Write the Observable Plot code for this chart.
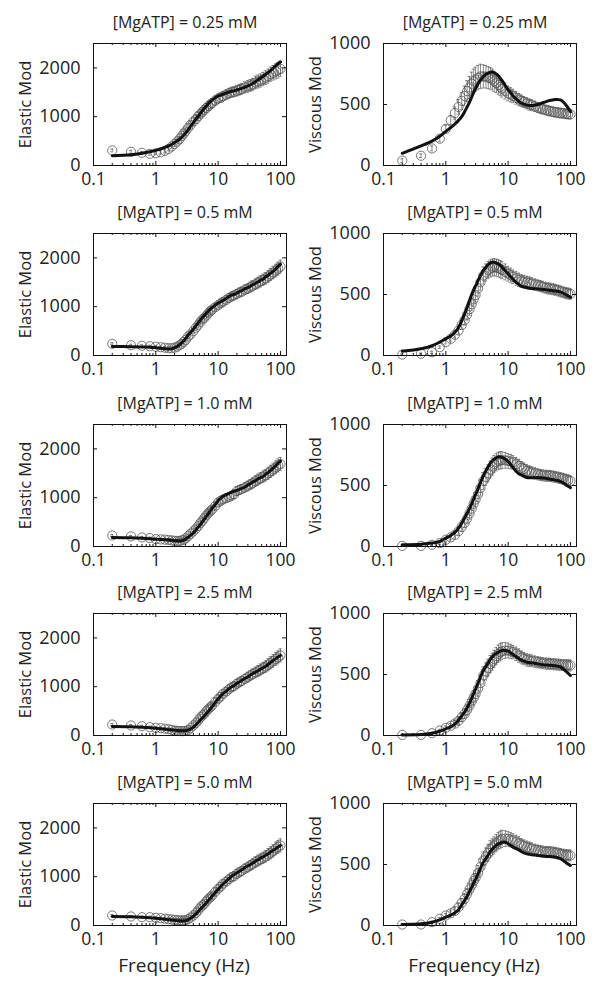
<!DOCTYPE html>
<html><head><meta charset="utf-8">
<script src="https://cdn.jsdelivr.net/npm/d3@7"></script>
<script src="https://cdn.jsdelivr.net/npm/@observablehq/plot@0.6"></script>
<style>
body{margin:0;background:#fff}
#c{position:relative;width:601px;height:992px;overflow:hidden}
#c svg{position:absolute}
</style>
</head><body><div id="c"></div>
<script>
// Frequencies (Hz)
const freq = [0.2,0.4,0.6,0.8,1,1.2,1.4,1.6,1.8,2, 2.2,2.4,2.6,2.8,3, 3.3,3.6,4,4.4,4.8, 5.2,5.6,6,6.5,7, 7.5,8,9,10,11, 12,13.5,15,16.5,18, 20,22,24,27,30, 33,36,40,44,48, 53,58,64,70,77, 85,92,100];
const concLabels = ["[MgATP] = 0.25 mM","[MgATP] = 0.5 mM","[MgATP] = 1.0 mM","[MgATP] = 2.5 mM","[MgATP] = 5.0 mM"];

// Elastic modulus: measured means
const elastic1 = [310,280,260,240,250,270,300,340,390,440, 490,540,600,650,700, 770,830,900,950,1010, 1060,1100,1140,1180,1220, 1250,1280,1330,1370,1390, 1420,1450,1480,1500,1510, 1530,1550,1570,1600,1620, 1640,1660,1700,1720,1740, 1770,1800,1830,1870,1900, 1930,1950,1980];
const elastic2 = [240,210,200,190,180,170,160,150,150,160, 180,210,240,280,320, 390,430,500,570,630, 690,740,770,820,870, 910,940,990,1030,1070, 1100,1140,1180,1210,1230, 1260,1290,1310,1350,1370, 1400,1430,1460,1490,1520, 1550,1580,1620,1660,1700, 1740,1780,1820];
const elastic3 = [227,207,186,172,150,145,140,135,125,117, 115,115,125,140,165, 210,260,310,365,420, 480,530,585,640,690, 725,760,830,900,935, 965,990,1015,1040,1070, 1135,1160,1180,1210,1240, 1270,1300,1340,1370,1400, 1430,1460,1500,1540,1580, 1620,1660,1690];
const elastic4 = [225,205,190,170,157,150,140,130,115,100, 95,92,90,90,95, 110,150,205,255,310, 370,410,445,500,545, 580,615,690,750,800, 855,900,950,990,1010, 1060,1090,1120,1160,1195, 1230,1260,1290,1320,1350, 1380,1410,1450,1490,1530, 1570,1600,1640];
const elastic5 = [205,185,171,171,157,150,140,130,122,116, 110,105,103,102,110, 130,160,205,255,310, 370,410,444,500,546, 580,615,690,751,800, 854,900,950,990,1010, 1059,1090,1120,1165,1195, 1230,1260,1300,1330,1355, 1385,1415,1455,1490,1530, 1580,1610,1639];
// Elastic modulus: model fits
const elasticFit1 = [200,220,250,280,310,340,370,400,430,470, 505,540,580,620,665, 730,800,880,950,1010, 1070,1120,1170,1220,1270, 1310,1340,1390,1420,1440, 1460,1485,1505,1520,1530, 1550,1565,1580,1605,1630, 1655,1680,1720,1760,1790, 1830,1865,1910,1950,2000, 2050,2090,2120];
const elasticFit2 = [185,180,175,170,160,150,140,135,140,160, 185,220,260,300,345, 420,470,540,610,670, 730,780,820,870,910, 950,980,1030,1070,1100, 1130,1170,1210,1240,1250, 1280,1310,1330,1370,1390, 1420,1450,1480,1510,1540, 1570,1610,1650,1690,1730, 1780,1830,1870];
const elasticFit3 = [186,180,170,160,150,145,140,135,128,120, 116,115,120,130,150, 190,230,280,340,400, 450,510,560,620,680, 730,780,860,940,990, 1030,1065,1090,1115,1130, 1150,1170,1190,1220,1260, 1290,1320,1350,1390,1410, 1440,1480,1520,1560,1610, 1660,1710,1750];
const elasticFit4 = [185,180,170,160,150,140,130,120,115,110, 104,98,96,95,98, 112,130,170,220,270, 320,360,400,450,500, 545,590,680,750,810, 860,910,960,1000,1020, 1070,1100,1130,1170,1200, 1240,1270,1300,1330,1360, 1390,1420,1460,1500,1540, 1580,1610,1640];
const elasticFit5 = [185,180,170,160,150,140,130,120,110,105, 100,95,94,95,100, 120,150,190,240,285, 340,380,420,470,520, 560,600,680,740,800, 850,910,960,1010,1040, 1080,1110,1140,1190,1220, 1250,1280,1320,1350,1380, 1410,1440,1470,1510,1540, 1580,1610,1640];

// Viscous modulus: measured means
const viscous1 = [40,80,140,220,300,370,430,480,530,570, 610,640,670,690,705, 720,730,730,728,720, 715,705,690,675,660, 645,630,610,590,580, 570,555,540,530,520, 510,500,495,485,475, 468,462,455,450,445, 440,436,432,430,427, 424,422,420];
const viscous2 = [8,15,27,68,110,137,170,205,250,290, 335,380,420,460,495, 550,600,655,680,700, 712,720,725,720,715, 708,700,685,670,658, 645,632,620,610,605, 600,595,590,582,575, 570,563,555,550,547, 543,538,532,525,518, 512,508,505];
const viscous3 = [5,5,14,28,55,75,95,125,160,193, 230,270,310,350,385, 430,480,537,570,600, 630,655,675,690,702, 706,708,706,702,696, 690,675,660,645,635, 620,612,607,600,592, 587,583,580,579,578, 574,570,565,560,555, 548,542,537];
const viscous4 = [5,5,19,41,63,80,98,120,150,178, 210,245,280,310,340, 385,430,492,525,555, 585,605,628,650,670, 682,691,696,697,690, 683,670,655,640,630, 620,615,612,606,601, 597,593,590,588,587, 585,583,581,579,577, 576,575,574];
const viscous5 = [8,8,27,55,82,100,120,150,185,219, 258,295,330,365,390, 430,480,533,565,595, 625,640,656,675,691, 702,710,712,710,703, 697,685,672,660,652, 642,635,630,620,615, 610,606,603,602,601, 598,595,590,586,580, 577,575,574];
// Viscous modulus: model fits
const viscousFit1 = [100,160,200,240,280,310,340,370,400,440, 480,520,560,600,630, 670,700,730,748,758, 765,766,760,748,735, 715,695,655,620,595, 570,545,525,510,503, 495,492,491,495,500, 508,515,522,530,535, 538,540,540,535,520, 495,470,440];
const viscousFit2 = [35,55,80,110,137,160,190,230,285,340, 395,450,500,540,570, 615,655,697,725,748, 760,765,765,758,751, 738,724,695,670,645, 625,600,580,567,562, 555,551,549,547,546, 544,542,540,537,534, 531,528,524,520,510, 498,488,478];
const viscousFit3 = [14,19,28,41,69,90,115,150,190,234, 272,310,350,390,425, 475,525,579,620,655, 685,705,716,728,735, 734,730,716,697,672, 647,615,595,585,575, 565,563,563,564,565, 564,562,560,556,552, 548,544,539,532,520, 505,493,482];
const viscousFit4 = [5,8,19,35,55,72,95,125,160,191, 228,265,305,345,380, 430,480,533,565,595, 625,645,661,673,683, 692,697,697,691,678, 664,646,630,617,610, 601,598,596,592,587, 583,580,578,576,575, 573,571,568,560,545, 525,510,492];
const viscousFit5 = [8,14,27,46,68,85,105,130,170,205, 242,280,315,350,378, 425,470,519,550,580, 608,628,642,660,670, 677,683,683,670,655, 642,630,618,605,595, 587,583,580,577,574, 571,569,567,566,565, 563,560,554,546,532, 515,503,492];

// Error bar half-widths
const errElastic1 = [30,30,30,30,30,35,40,40,45,50, 52,55,58,60,62, 66,70,75,78,80, 80,82,85,88,90, 90,90,95,95,98, 100,100,102,104,105, 110,110,112,115,120, 122,125,130,132,135, 137,140,143,145,150, 155,158,160];
const errElastic = [20,20,20,20,20,20,20,25,25,30, 32,35,38,40,42, 46,50,55,58,60, 60,62,65,68,70, 70,70,75,75,78, 80,82,85,86,88, 90,90,92,95,100, 102,105,110,112,115, 117,120,123,125,128, 131,133,135];
const errViscous1 = [15,15,20,25,30,40,50,60,70,80, 85,90,95,100,100, 100,100,95,92,90, 88,85,82,78,75, 72,70,65,60,58, 55,52,50,48,45, 45,45,45,42,40, 40,40,40,40,40, 40,40,40,40,40, 40,40,40];
const errViscous = [5,5,8,10,15,20,25,30,35,40, 45,50,52,55,58, 62,65,70,70,70, 70,70,70,70,70, 70,70,65,60,58, 55,55,55,52,50, 50,50,48,46,45, 45,45,45,45,45, 45,45,45,45,45, 45,45,45];

// Axis ticks
const xTicks = [0.1,1,10,100];
const xMinorTicks = [0.2,0.3,0.4,0.5,0.6,0.7,0.8,0.9,2,3,4,5,6,7,8,9,20,30,40,50,60,70,80,90];
const yTicksElastic = [0,1000,2000];
const yTicksViscous = [0,500,1000];
const yLabels = ["Elastic Mod","Viscous Mod"];
const xLabel = "Frequency (Hz)";

const elasticData = [elastic1,elastic2,elastic3,elastic4,elastic5];
const elasticFits = [elasticFit1,elasticFit2,elasticFit3,elasticFit4,elasticFit5];
const viscousData = [viscous1,viscous2,viscous3,viscous4,viscous5];
const viscousFits = [viscousFit1,viscousFit2,viscousFit3,viscousFit4,viscousFit5];

const rowTops = [0,190,381,570,760];
const FW = 193, FH = 122, ML = 93, MT = 43;
const font = "'Open Sans', 'Noto Sans', sans-serif";
const container = document.getElementById("c");

function panel(col, row) {
  const isE = col === 0;
  const vals = isE ? elasticData[row] : viscousData[row];
  const fit = isE ? elasticFits[row] : viscousFits[row];
  const err = isE ? (row === 0 ? errElastic1 : errElastic) : (row === 0 ? errViscous1 : errViscous);
  const n = Math.min(freq.length, vals.length, err.length);
  const pts = freq.slice(0, n).map((f, i) => ({f, v: vals[i], lo: Math.max(0, vals[i] - err[i]), hi: vals[i] + err[i]}));
  const fitPts = freq.slice(0, Math.min(freq.length, fit.length)).map((f, i) => ({f, v: fit[i]}));
  const yT = isE ? yTicksElastic : yTicksViscous;
  const width = isE ? 300 : 311;
  const last = row === 4;
  const height = last ? 232 : 190;
  const stroke = "#555";
  const marks = [
    Plot.ruleX(pts, {x: "f", y1: "lo", y2: "hi", stroke, strokeWidth: 0.7}),
    Plot.ruleY(pts, {y: "hi", x1: d => d.f / 1.06, x2: d => d.f * 1.06, stroke, strokeWidth: 0.7}),
    Plot.ruleY(pts, {y: "lo", x1: d => d.f / 1.06, x2: d => d.f * 1.06, stroke, strokeWidth: 0.7}),
    Plot.dot(pts, {x: "f", y: "v", r: 4.6, stroke, strokeWidth: 0.8, fill: "none"}),
    Plot.line(fitPts, {x: "f", y: "v", stroke: "#111", strokeWidth: 3, curve: "catmull-rom"}),
    Plot.frame({stroke: "#111", strokeWidth: 1}),
    Plot.tickX(xTicks, {x: d => d, insetTop: FH - 4, stroke: "#111"}),
    Plot.tickX(xTicks, {x: d => d, insetBottom: FH - 4, stroke: "#111"}),
    Plot.tickX(xMinorTicks, {x: d => d, insetTop: FH - 2, stroke: "#111"}),
    Plot.tickX(xMinorTicks, {x: d => d, insetBottom: FH - 2, stroke: "#111"}),
    Plot.tickY(yT, {y: d => d, insetRight: FW - 4, stroke: "#111"}),
    Plot.tickY(yT, {y: d => d, insetLeft: FW - 4, stroke: "#111"}),
    Plot.axisX({ticks: xTicks, tickSize: 0, tickPadding: 7, tickFormat: d => String(d), label: null, fontSize: 17.5, fill: "#222"}),
    Plot.axisY({ticks: yT, tickSize: 0, tickPadding: 13, tickFormat: d => String(d), label: null, fontSize: 18, fill: "#222"}),
    Plot.text([concLabels[row]], {frameAnchor: "top", dy: -21, dx: -5, lineAnchor: "middle", textAnchor: "middle", fontSize: 16, fill: "#222"}),
    Plot.text([yLabels[col]], {frameAnchor: "left", dx: -68, rotate: -90, textAnchor: "middle", lineAnchor: "middle", fontSize: 16.5, fill: "#222"})
  ];
  if (last) marks.push(Plot.text([xLabel], {frameAnchor: "bottom", dy: 40, dx: -6, lineAnchor: "middle", textAnchor: "middle", fontSize: 19, fill: "#222"}));
  const svg = Plot.plot({
    width, height,
    marginLeft: ML, marginRight: width - ML - FW,
    marginTop: MT, marginBottom: height - MT - FH,
    style: {fontFamily: font, fontSize: "18px", background: "transparent", overflow: "visible"},
    x: {type: "log", domain: [0.1, 125]},
    y: {domain: isE ? [0, 2500] : [0, 1000]},
    marks
  });
  svg.style.left = (isE ? 0 : 290) + "px";
  svg.style.top = rowTops[row] + "px";
  container.appendChild(svg);
}
for (let r = 0; r < 5; r++) { panel(0, r); panel(1, r); }
</script></body></html>
